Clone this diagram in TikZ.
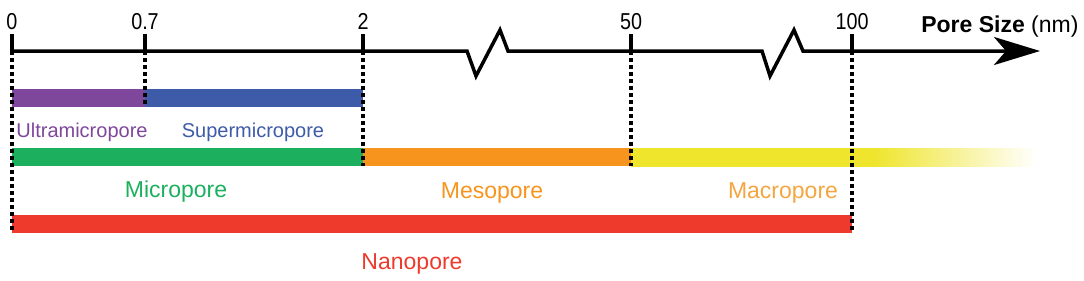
\documentclass[tikz,border=0pt]{standalone}
\usepackage{fontspec}
\setmainfont{Liberation Sans}
\newfontfamily\ticklabelfont{Liberation Sans}[FakeStretch=0.86]
\usetikzlibrary{arrows.meta}
\definecolor{PSPurple}{HTML}{7E479B}
\definecolor{PSBlue}{HTML}{3D5BA9}
\definecolor{PSGreen}{HTML}{1CB05E}
\definecolor{PSOrange}{HTML}{F7941E}
\definecolor{PSYellow}{HTML}{EFE52D}
\definecolor{PSRed}{HTML}{EE3A2C}
\definecolor{PSLightOrange}{HTML}{F4A540}
\pgfdeclarehorizontalshading{yellowfade}{100bp}{color(0bp)=(PSYellow); color(55bp)=(PSYellow); color(75bp)=(white); color(100bp)=(white)}

\begin{document}
\begin{tikzpicture}[x=1pt,y=-1pt,line join=miter,
    ticklabel/.style={font=\ticklabelfont\fontsize{23}{23}\selectfont,anchor=base},
    poredots/.style={line width=3.5pt,dash pattern=on 3.5pt off 3.5pt},
    classlabel/.style={font=\fontsize{23}{23}\selectfont,anchor=base},
    sublabel/.style={font=\fontsize{20}{20}\selectfont,anchor=base}]
  \useasboundingbox (0,0) rectangle (1084,281);
  % class bars
  \fill[PSPurple] (12,89) rectangle (145,107);
  \fill[PSBlue] (145,89) rectangle (363,107);
  \fill[PSGreen] (12,148) rectangle (363,166);
  \fill[PSOrange] (363,148) rectangle (631,166);
  \shade[shading=yellowfade] (631,148) rectangle (1036,166);
  \fill[PSRed] (12,215) rectangle (852,233);
  % axis with two breaks
  \draw[line width=3.5pt,-{Stealth[length=46pt,width=28pt,inset=12pt]}] (12,51) -- (467,51) -- (476,76) -- (500,30) -- (508,51) -- (762,51) -- (770,76) -- (794,30) -- (803,51) -- (1040,51);
  \coordinate (t0) at (12,51);
  \coordinate (t07) at (145,51);
  \coordinate (t2) at (363,51);
  \coordinate (t50) at (631,51);
  \coordinate (t100) at (852,51);
  \draw[line width=3.5pt] (t0) -- ++(0,-17);
  \draw[line width=3.5pt] (t07) -- ++(0,-17);
  \draw[line width=3.5pt] (t2) -- ++(0,-17);
  \draw[line width=3.5pt] (t50) -- ++(0,-17);
  \draw[line width=3.5pt] (t100) -- ++(0,-17);
  % dotted guides
  \draw[poredots] (t0) -- ++(0,182);
  \draw[poredots] (t07) -- ++(0,56);
  \draw[poredots] (t2) -- ++(0,115);
  \draw[poredots] (t50) -- ++(0,115);
  \draw[poredots] (t100) -- ++(0,182);
  % tick labels
  \node[ticklabel] (l0) at (12,29) {0};
  \node[ticklabel] (l07) at (145,29) {0.7};
  \node[ticklabel] (l2) at (363,29) {2};
  \node[ticklabel] (l50) at (631,29) {50};
  \node[ticklabel] (l100) at (852,29) {100};
  \node[anchor=base east,font=\fontsize{23}{23}\selectfont] (unit) at (1082,32) {\textbf{Pore Size} (nm)};
  % class names
  \node[sublabel,text=PSPurple] (ultra) at (82,137) {Ultramicropore};
  \node[sublabel,text=PSBlue] (super) at (253,137) {Supermicropore};
  \node[classlabel,text=PSGreen] (micro) at (176,197) {Micropore};
  \node[classlabel,text=PSOrange] (meso) at (492,198) {Mesopore};
  \node[classlabel,text=PSLightOrange] (macro) at (783,198) {Macropore};
  \node[classlabel,text=PSRed] (nano) at (412,269) {Nanopore};
\end{tikzpicture}
\end{document}
